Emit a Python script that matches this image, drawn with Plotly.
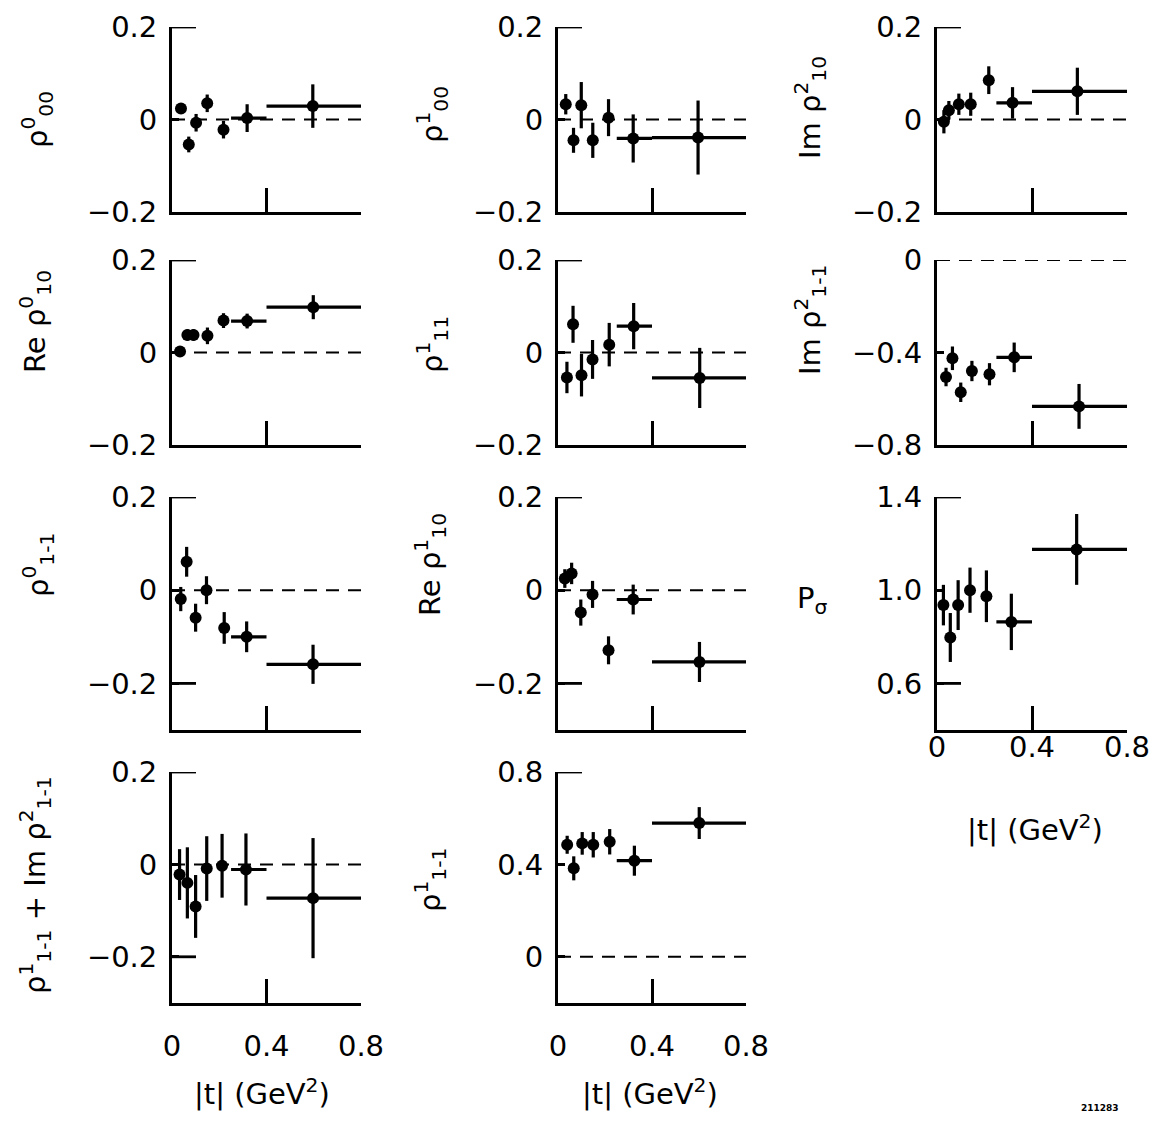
import plotly.graph_objects as go

# ---------------- data ----------------
bin_lo = [0.25, 0.40]          # t-bin edges of the two wide bins
bin_hi = [0.40, 0.80]

r00_0_t = [0.038, 0.071, 0.102, 0.149, 0.218, 0.318, 0.596]
r00_0_v = [0.024, -0.054, -0.007, 0.035, -0.022, 0.003, 0.029]
r00_0_e = [0.008, 0.017, 0.019, 0.019, 0.019, 0.030, 0.047]

r00_1_t = [0.033, 0.066, 0.099, 0.148, 0.215, 0.320, 0.596]
r00_1_v = [0.033, -0.045, 0.031, -0.045, 0.004, -0.041, -0.039]
r00_1_e = [0.022, 0.027, 0.050, 0.038, 0.040, 0.052, 0.080]

imr10_2_t = [0.029, 0.050, 0.092, 0.142, 0.218, 0.318, 0.591]
imr10_2_v = [-0.005, 0.020, 0.033, 0.033, 0.085, 0.036, 0.061]
imr10_2_e = [0.025, 0.020, 0.023, 0.025, 0.030, 0.034, 0.051]

rer10_0_t = [0.034, 0.065, 0.091, 0.150, 0.218, 0.318, 0.598]
rer10_0_v = [0.002, 0.038, 0.038, 0.036, 0.069, 0.068, 0.098]
rer10_0_e = [0.010, 0.012, 0.012, 0.018, 0.016, 0.016, 0.026]

r11_1_t = [0.038, 0.064, 0.100, 0.147, 0.218, 0.322, 0.603]
r11_1_v = [-0.054, 0.061, -0.049, -0.015, 0.017, 0.057, -0.055]
r11_1_e = [0.034, 0.040, 0.046, 0.042, 0.047, 0.050, 0.065]

imr1m1_2_t = [0.038, 0.065, 0.100, 0.147, 0.221, 0.325, 0.598]
imr1m1_2_v = [-0.506, -0.425, -0.572, -0.480, -0.494, -0.421, -0.633]
imr1m1_2_e = [0.040, 0.051, 0.042, 0.044, 0.048, 0.064, 0.097]

r1m1_0_t = [0.037, 0.062, 0.100, 0.146, 0.221, 0.316, 0.597]
r1m1_0_v = [-0.019, 0.061, -0.059, 0.000, -0.081, -0.100, -0.159]
r1m1_0_e = [0.026, 0.032, 0.030, 0.030, 0.034, 0.033, 0.042]

rer10_1_t = [0.029, 0.058, 0.097, 0.147, 0.215, 0.320, 0.602]
rer10_1_v = [0.025, 0.036, -0.048, -0.009, -0.129, -0.020, -0.154]
rer10_1_e = [0.020, 0.023, 0.028, 0.029, 0.030, 0.032, 0.043]

psig_t = [0.027, 0.056, 0.089, 0.139, 0.208, 0.313, 0.588]
psig_v = [0.936, 0.797, 0.936, 1.000, 0.974, 0.864, 1.175]
psig_e = [0.087, 0.105, 0.107, 0.097, 0.111, 0.121, 0.152]

sum_t = [0.032, 0.065, 0.100, 0.147, 0.212, 0.313, 0.597]
sum_v = [-0.022, -0.040, -0.091, -0.009, -0.003, -0.011, -0.073]
sum_e = [0.055, 0.077, 0.068, 0.070, 0.069, 0.078, 0.130]

r1m1_1_t = [0.039, 0.067, 0.103, 0.150, 0.220, 0.325, 0.601]
r1m1_1_v = [0.485, 0.383, 0.491, 0.485, 0.498, 0.416, 0.579]
r1m1_1_e = [0.039, 0.052, 0.049, 0.055, 0.055, 0.065, 0.069]

x_tickvals = [0, 0.4, 0.8]
x_ticktext = ["0", "0.4", "0.8"]
x_title = "|t| (GeV<sup>2</sup>)"

# ---------------- layout geometry (page pixels) ----------------
OFF = 8                       # default page-body margin around the figure
W, H = 1162 - OFF, 1122 - OFF
col_px = [(172, 361), (558, 746), (937, 1127)]
row_px = [(27, 212), (260, 445), (497, 730), (772, 1003)]


def fx(px):
    return (px - OFF) / W


def fy(py):
    return 1 - (py - OFF) / H


# panel: (row, col, t, v, e, yrange, tickvals, ticktext, long-tick values, dashed y, title, title pos, angle)
panels = [
    (0, 0, r00_0_t, r00_0_v, r00_0_e, [-0.2, 0.2], [0.2, 0, -0.2], ["0.2", "0", "−0.2"], [0.2], 0,
     "ρ<sup>0</sup><sub>00</sub>", (37, 120), -90),
    (0, 1, r00_1_t, r00_1_v, r00_1_e, [-0.2, 0.2], [0.2, 0, -0.2], ["0.2", "0", "−0.2"], [0.2], 0,
     "ρ<sup>1</sup><sub>00</sub>", (432, 115), -90),
    (0, 2, imr10_2_t, imr10_2_v, imr10_2_e, [-0.2, 0.2], [0.2, 0, -0.2], ["0.2", "0", "−0.2"], [0.2], 0,
     "Im ρ<sup>2</sup><sub>10</sub>", (810, 108), -90),
    (1, 0, rer10_0_t, rer10_0_v, rer10_0_e, [-0.2, 0.2], [0.2, 0, -0.2], ["0.2", "0", "−0.2"], [0.2], 0,
     "Re ρ<sup>0</sup><sub>10</sub>", (35, 322), -90),
    (1, 1, r11_1_t, r11_1_v, r11_1_e, [-0.2, 0.2], [0.2, 0, -0.2], ["0.2", "0", "−0.2"], [0.2], 0,
     "ρ<sup>1</sup><sub>11</sub>", (432, 345), -90),
    (1, 2, imr1m1_2_t, imr1m1_2_v, imr1m1_2_e, [-0.8, 0], [0, -0.4, -0.8], ["0", "−0.4", "−0.8"], [], 0,
     "Im ρ<sup>2</sup><sub>1-1</sub>", (810, 320), -90),
    (2, 0, r1m1_0_t, r1m1_0_v, r1m1_0_e, [-0.3, 0.2], [0.2, 0, -0.2], ["0.2", "0", "−0.2"], [0.2, -0.2], 0,
     "ρ<sup>0</sup><sub>1-1</sub>", (38, 565), -90),
    (2, 1, rer10_1_t, rer10_1_v, rer10_1_e, [-0.3, 0.2], [0.2, 0, -0.2], ["0.2", "0", "−0.2"], [0.2, -0.2], 0,
     "Re ρ<sup>1</sup><sub>10</sub>", (430, 565), -90),
    (2, 2, psig_t, psig_v, psig_e, [0.4, 1.4], [1.4, 1.0, 0.6], ["1.4", "1.0", "0.6"], [1.4, 0.6], None,
     "P<sub>σ</sub>", (812, 600), 0),
    (3, 0, sum_t, sum_v, sum_e, [-0.3, 0.2], [0.2, 0, -0.2], ["0.2", "0", "−0.2"], [0.2, -0.2], 0,
     "ρ<sup>1</sup><sub>1-1</sub> + Im ρ<sup>2</sup><sub>1-1</sub>", (35, 885), -90),
    (3, 1, r1m1_1_t, r1m1_1_v, r1m1_1_e, [-0.2, 0.8], [0.8, 0.4, 0], ["0.8", "0.4", "0"], [0.8], 0,
     "ρ<sup>1</sup><sub>1-1</sub>", (430, 880), -90),
]
# panels carrying x tick labels, with the label standoff used there
xlabel_standoff = {(3, 0): 15, (3, 1): 15, (2, 2): -11}

FONT = "DejaVu Sans"
FS = 29
LW = 2.8

fig = go.Figure()
layout = dict(
    width=W, height=H, margin=dict(l=0, r=0, t=0, b=0, pad=0, autoexpand=False),
    paper_bgcolor="white", plot_bgcolor="white", showlegend=False,
    font=dict(family=FONT, size=FS, color="black"),
)
shapes, annotations = [], []

for k, (r, c, t, v, e, yr, tv, tt, longs, dash_y, title, tpos, ang) in enumerate(panels, start=1):
    xs = "" if k == 1 else str(k)
    xa, ya = "x" + xs, "y" + xs
    n = len(t)
    ex_plus = [0.0] * (n - 2) + [bin_hi[i] - t[n - 2 + i] for i in range(2)]
    ex_minus = [0.0] * (n - 2) + [t[n - 2 + i] - bin_lo[i] for i in range(2)]
    fig.add_trace(go.Scatter(
        x=t, y=v, mode="markers", xaxis=xa, yaxis=ya,
        marker=dict(color="black", size=12, symbol="circle"),
        error_y=dict(type="data", array=e, thickness=3.2, width=0, color="black"),
        error_x=dict(type="data", symmetric=False, array=ex_plus, arrayminus=ex_minus,
                     thickness=3.2, width=0, color="black"),
        cliponaxis=False,
    ))
    x0p, x1p = col_px[c]
    y0p, y1p = row_px[r]
    layout["xaxis" + xs] = dict(
        domain=[fx(x0p), fx(x1p)], anchor=ya, range=[0, 0.8], automargin=False,
        showline=True, linewidth=LW, linecolor="black", mirror=False,
        ticks="inside", ticklen=24, tickwidth=LW, tickcolor="black",
        tickvals=x_tickvals, ticktext=x_ticktext,
        ticklabelstandoff=xlabel_standoff.get((r, c), 0),
        showticklabels=(r, c) in xlabel_standoff, tickfont=dict(size=FS),
        showgrid=False, zeroline=False, fixedrange=True,
    )
    layout["yaxis" + xs] = dict(
        domain=[fy(y1p), fy(y0p)], anchor=xa, range=yr, automargin=False,
        showline=True, linewidth=LW, linecolor="black",
        ticks="inside", ticklen=7, tickwidth=LW, tickcolor="black",
        tickvals=tv, ticktext=tt, tickfont=dict(size=FS), ticklabelstandoff=6,
        showgrid=False, zeroline=False, fixedrange=True,
    )
    for lv in longs:
        shapes.append(dict(type="line", xref=xa + " domain", yref=ya, x0=0, x1=24 / (x1p - x0p),
                           y0=lv, y1=lv, line=dict(color="black", width=LW)))
    if dash_y is not None:
        shapes.append(dict(type="line", xref=xa + " domain", yref=ya, x0=0, x1=1,
                           y0=dash_y, y1=dash_y, line=dict(color="black", width=2, dash="13px,9px")))
    annotations.append(dict(text=title, x=fx(tpos[0]), y=fy(tpos[1]), xref="paper", yref="paper",
                            showarrow=False, textangle=ang, font=dict(size=FS),
                            xanchor="center", yanchor="middle"))

# x-axis titles
for (xc, yc) in [(262, 1092), (650, 1092), (1035, 828)]:
    annotations.append(dict(text=x_title, x=fx(xc), y=fy(yc), xref="paper", yref="paper",
                            showarrow=False, font=dict(size=FS), xanchor="center", yanchor="middle"))
annotations.append(dict(text="<b>211283</b>", x=fx(1100), y=fy(1108), xref="paper", yref="paper",
                        showarrow=False, font=dict(size=9), xanchor="center", yanchor="middle"))

layout["shapes"] = shapes
layout["annotations"] = annotations
fig.update_layout(**layout)
fig.write_html("out.html")
